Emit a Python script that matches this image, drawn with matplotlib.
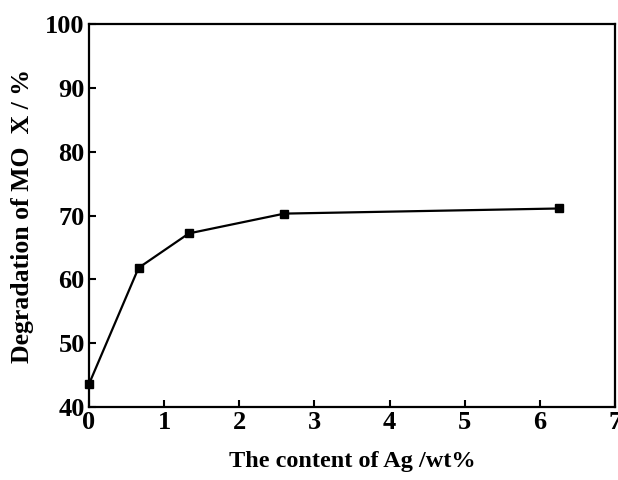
import matplotlib.pyplot as plt

# Ag content (wt%) vs MO degradation (%)
ag_content = [0, 0.66, 1.33, 2.6, 6.25]
degradation = [43.6, 61.8, 67.2, 70.3, 71.1]

x_ticks = [0, 1, 2, 3, 4, 5, 6, 7]
y_ticks = [40, 50, 60, 70, 80, 90, 100]

plt.rcParams['font.family'] = ['Liberation Serif', 'DejaVu Serif']
plt.rcParams['font.weight'] = 'bold'

fig = plt.figure(figsize=(6.18, 4.8), dpi=100)
ax = fig.add_axes([0.144, 0.152, 0.851, 0.798])

ax.plot(ag_content, degradation, '-s', color='black', linewidth=1.6,
        markersize=6, clip_on=False)

ax.set_xlim(0, 7)
ax.set_ylim(40, 100)
ax.set_xticks(x_ticks)
ax.set_yticks(y_ticks)
ax.tick_params(direction='in', length=5, width=1.5, labelsize=19, pad=3)
for lab in ax.get_xticklabels() + ax.get_yticklabels():
    lab.set_fontweight('bold')
for s in ax.spines.values():
    s.set_linewidth(1.6)

ax.set_xlabel("The content of Ag /wt%", fontsize=17.5, fontweight='bold', labelpad=12)
ax.set_ylabel("Degradation of MO  X / %", fontsize=18.5, fontweight='bold', labelpad=8)

plt.savefig("out.png", dpi=100)
plt.close()
